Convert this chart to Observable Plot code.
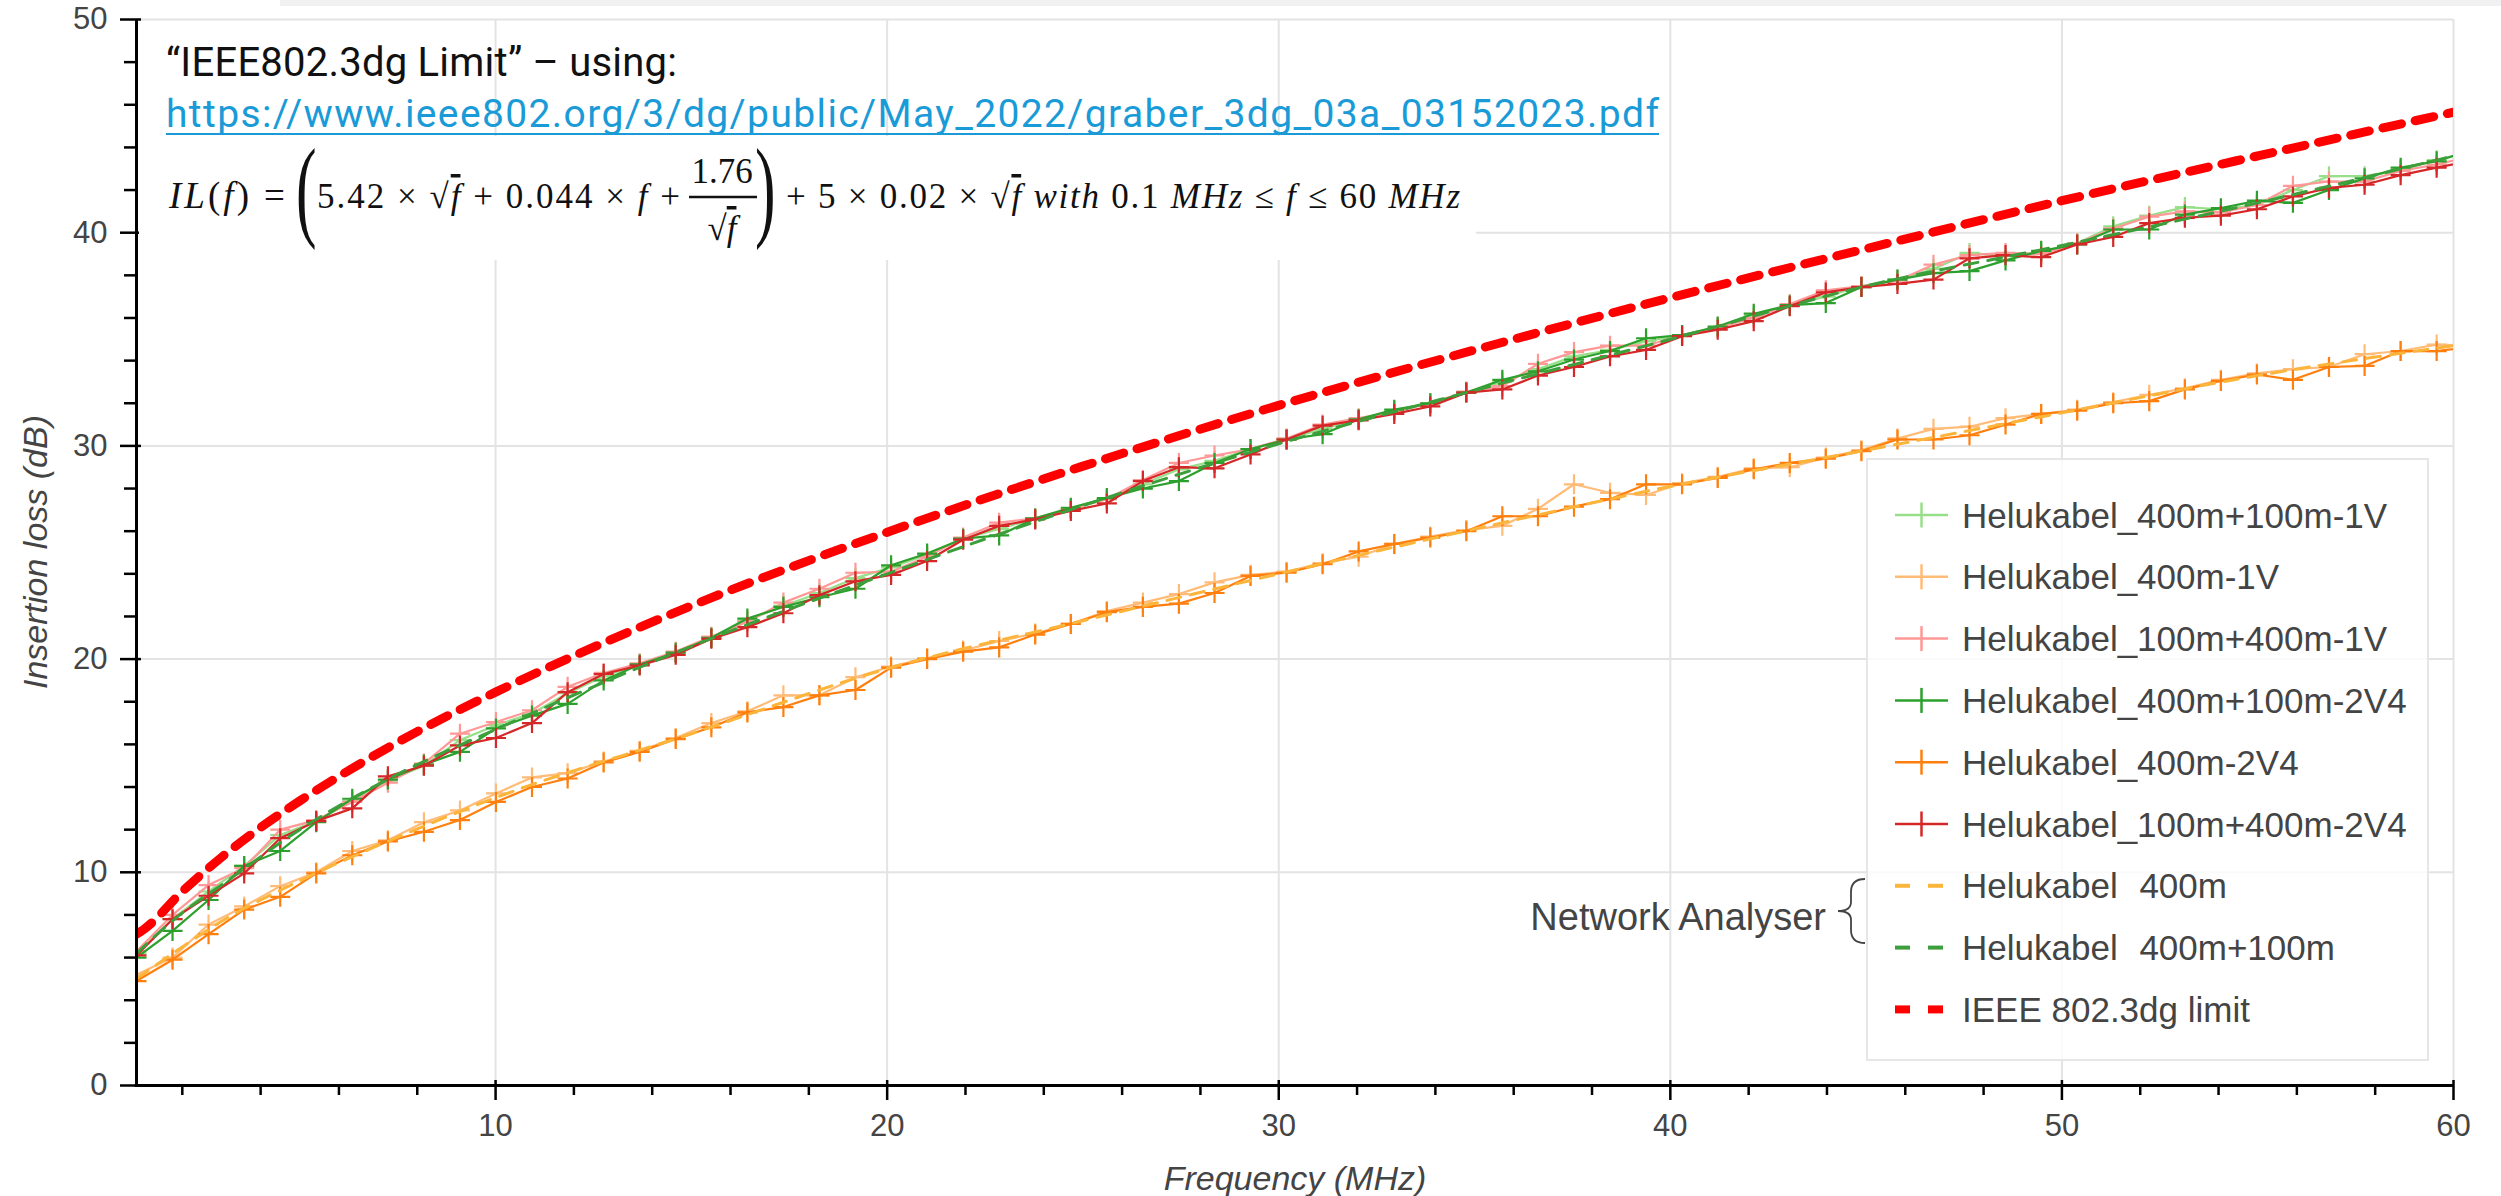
<!DOCTYPE html>
<html>
<head>
<meta charset="utf-8">
<script src="https://cdn.jsdelivr.net/npm/d3@7"></script>
<script src="https://cdn.jsdelivr.net/npm/@observablehq/plot@0.6"></script>
<style>
html, body { margin: 0; padding: 0; background: #fff; }
#wrap { position: relative; width: 2501px; height: 1196px; overflow: hidden; background: #fff; }
#wrap > svg { position: absolute; left: 0; top: 0; }
</style>
</head>
<body>
<div id="wrap"></div>
<script>
// ---------- DATA ----------
const freqs = [0.83,1.75,2.67,3.58,4.50,5.42,6.34,7.25,8.17,9.09,
  10.01,10.93,11.84,12.76,13.68,14.60,15.51,16.43,17.35,18.27,
  19.19,20.10,21.02,21.94,22.86,23.78,24.69,25.61,26.53,27.45,
  28.36,29.28,30.20,31.12,32.04,32.95,33.87,34.79,35.71,36.62,
  37.54,38.46,39.38,40.30,41.21,42.13,43.05,43.97,44.88,45.80,
  46.72,47.64,48.56,49.47,50.39,51.31,52.23,53.14,54.06,54.98,
  55.90,56.82,57.73,58.65,59.57,60.49];

const il_400m100m_1V = [6.2,7.8,9.1,10.3,11.75,12.4,13.35,14.3,15.0,16.2,
  16.9,17.45,18.4,19.2,19.75,20.3,21.0,21.8,22.5,23.1,
  23.8,24.3,24.9,25.65,26.1,26.6,27.05,27.5,28.2,28.9,
  29.3,29.85,30.3,30.8,31.25,31.65,32.0,32.5,33.0,33.6,
  34.2,34.5,34.9,35.2,35.55,36.1,36.6,37.0,37.5,37.8,
  38.3,39.05,38.9,39.1,39.5,40.3,40.8,41.2,41.1,41.3,
  42.0,42.65,42.65,42.95,43.4,43.8];

const il_400m_1V = [5.2,6.0,7.55,8.4,9.35,10.0,11.0,11.5,12.35,12.9,
  13.7,14.45,14.65,15.2,15.7,16.3,17.0,17.55,18.3,18.3,
  19.15,19.65,20.05,20.4,20.85,21.2,21.65,22.25,22.65,23.05,
  23.6,23.95,24.1,24.5,24.8,25.4,25.75,26.05,26.25,27.05,
  28.2,27.8,27.7,28.25,28.55,28.95,29.0,29.45,29.8,30.35,
  30.8,30.9,31.3,31.5,31.7,32.05,32.4,32.7,33.1,33.4,
  33.6,33.7,34.3,34.45,34.75,34.7];

const il_100m400m_1V = [6.3,8.0,9.4,10.2,12.0,12.45,13.3,14.2,15.1,16.5,
  17.05,17.6,18.7,19.35,19.8,20.35,21.05,21.75,22.65,23.3,
  24.05,24.1,24.8,25.7,26.4,26.6,27.05,27.5,28.4,29.2,
  29.55,29.85,30.35,31.0,31.3,31.6,32.0,32.55,32.8,33.85,
  34.4,34.7,34.7,35.2,35.55,36.0,36.65,37.3,37.5,37.75,
  38.5,38.95,39.05,39.0,39.5,40.2,40.75,41.0,40.95,41.3,
  42.2,42.4,42.4,42.9,43.2,43.6];

const il_400m100m_2V4 = [6.0,7.25,8.7,10.3,11.0,12.35,13.45,14.35,15.05,15.65,
  16.75,17.35,17.9,19.0,19.75,20.3,21.0,21.9,22.45,22.9,
  23.3,24.4,24.95,25.65,25.8,26.6,27.1,27.55,28.0,28.35,
  29.2,29.85,30.3,30.55,31.25,31.7,32.0,32.5,33.1,33.5,
  34.05,34.45,35.05,35.2,35.6,36.2,36.6,36.7,37.45,37.8,
  38.1,38.2,38.7,39.15,39.45,40.15,40.15,40.85,41.15,41.5,
  41.4,42.0,42.55,43.05,43.35,43.9];

const il_400m_2V4 = [4.9,5.9,7.1,8.25,8.85,9.95,10.8,11.45,11.9,12.45,
  13.3,14.0,14.4,15.15,15.65,16.25,16.8,17.5,17.75,18.3,
  18.55,19.6,20.0,20.35,20.55,21.15,21.65,22.2,22.45,22.6,
  23.1,23.9,24.05,24.45,25.05,25.4,25.7,26.0,26.7,26.7,
  27.15,27.5,28.2,28.2,28.5,28.9,29.2,29.4,29.75,30.3,
  30.3,30.5,31.0,31.5,31.65,32.0,32.1,32.65,33.05,33.35,
  33.1,33.7,33.75,34.45,34.45,34.65];

const il_100m400m_2V4 = [6.1,7.8,8.9,9.95,11.6,12.4,13.0,14.5,15.0,15.95,
  16.3,17.0,18.45,19.3,19.7,20.2,20.95,21.5,22.15,23.0,
  23.65,23.95,24.6,25.6,26.25,26.55,26.95,27.3,28.35,29.0,
  28.95,29.6,30.3,30.95,31.2,31.5,31.85,32.5,32.65,33.3,
  33.7,34.2,34.5,35.15,35.45,35.85,36.55,37.2,37.45,37.6,
  37.8,38.8,38.95,38.85,39.45,39.8,40.45,40.7,40.8,41.1,
  41.7,42.1,42.25,42.7,43.05,43.4];

// Network analyser traces (read at coarser frequencies)
const naFreqs = [0.83,2,3,5,7.5,10,15,20,25,30,35,40,45,50,55,60];
const na_400m = [5.0,6.5,7.7,9.6,11.65,13.5,16.5,19.55,21.8,24.0,26.1,28.1,29.8,31.55,33.3,34.7];
const na_400m100m = [6.2,8.1,9.4,12.0,14.6,16.7,20.6,24.0,27.2,30.1,32.6,35.0,37.5,39.4,41.4,43.6];

// IEEE 802.3dg limit curve
const limitFreqs = [0.83,1,2,3,4,5,6,8,10,12,15,20,25,30,35,40,45,50,55,60];
const limitValues = [7.1,7.3,9.1,10.7,12.1,13.35,14.5,16.6,18.45,20.15,22.5,25.95,29.05,31.9,34.5,36.95,39.25,41.5,43.6,45.65];

// Ticks
const xMajorTicks = [10,20,30,40,50,60];
const xMinorTicks = [2,4,6,8,12,14,16,18,22,24,26,28,32,34,36,38,42,44,46,48,52,54,56,58];
const yMajorTicks = [0,10,20,30,40,50];
const yMinorTicks = [2,4,6,8,12,14,16,18,22,24,26,28,32,34,36,38,42,44,46,48];

// Series names and colours
const seriesNames = ["Helukabel_400m+100m-1V","Helukabel_400m-1V","Helukabel_100m+400m-1V",
  "Helukabel_400m+100m-2V4","Helukabel_400m-2V4","Helukabel_100m+400m-2V4"];
const seriesColors = ["#98df8a","#ffbb78","#ff9896","#2ca02c","#ff7f0e","#d62728"];
const naNames = ["Helukabel 400m","Helukabel 400m+100m"];
const naColors = ["#fcb53b","#3c9f3c"];
const limitName = "IEEE 802.3dg limit";
const limitColor = "#ff0000";

// ---------- CHART ----------
const seriesValues = [il_400m100m_1V, il_400m_1V, il_100m400m_1V, il_400m100m_2V4, il_400m_2V4, il_100m400m_2V4];
const X0 = freqs[0];

const marks = [
  Plot.gridX(xMajorTicks, {stroke: "#e3e3e3", strokeOpacity: 1, strokeWidth: 2}),
  Plot.gridY(yMajorTicks.filter(d => d > 0), {stroke: "#e3e3e3", strokeOpacity: 1, strokeWidth: 2})
];

seriesValues.forEach((vals, si) => {
  const rows = freqs.map((f, i) => ({f, v: vals[i]}));
  marks.push(Plot.line(rows, {x: "f", y: "v", stroke: seriesColors[si], strokeWidth: 2.2, clip: true}));
  marks.push(Plot.dot(rows, {x: "f", y: "v", stroke: seriesColors[si], fill: "none", symbol: "plus", r: 6.5, strokeWidth: 2.2, clip: true}));
});

[na_400m, na_400m100m].forEach((vals, ni) => {
  const rows = naFreqs.map((f, i) => ({f, v: vals[i]}));
  marks.push(Plot.line(rows, {x: "f", y: "v", stroke: naColors[ni], strokeWidth: 3, strokeDasharray: "14,10", curve: "monotone-x", clip: true}));
});

const limitRows = limitFreqs.map((f, i) => ({f, v: limitValues[i]}));
marks.push(Plot.line(limitRows, {x: "f", y: "v", stroke: limitColor, strokeWidth: 9, strokeDasharray: "19,14", curve: "monotone-x", clip: true}));

// axes
marks.push(Plot.ruleX([X0], {stroke: "#000", strokeWidth: 3, insetBottom: -1.5}));
marks.push(Plot.ruleY([0], {stroke: "#000", strokeWidth: 3, insetLeft: -1.5}));
marks.push(Plot.ruleX(xMajorTicks, {y1: 0, y2: 0, insetTop: -5, insetBottom: -15, stroke: "#000", strokeWidth: 2.5}));
marks.push(Plot.ruleX(xMinorTicks, {y1: 0, y2: 0, insetBottom: -10, stroke: "#000", strokeWidth: 2.5}));
marks.push(Plot.ruleY(yMajorTicks, {x1: X0, x2: X0, insetLeft: -16, insetRight: -5, stroke: "#000", strokeWidth: 2.5}));
marks.push(Plot.ruleY(yMinorTicks, {x1: X0, x2: X0, insetLeft: -12, stroke: "#000", strokeWidth: 2.5}));
marks.push(Plot.axisX(xMajorTicks, {tickSize: 0, tickPadding: 28, label: null}));
marks.push(Plot.axisY(yMajorTicks, {tickSize: 0, tickPadding: 29, label: null}));

const chart = Plot.plot({
  width: 2501,
  height: 1196,
  marginLeft: 136,
  marginRight: 48,
  marginTop: 19,
  marginBottom: 111,
  style: {fontFamily: "'Liberation Sans', Arial, sans-serif", fontSize: "31px", color: "#444", background: "white", overflow: "visible"},
  x: {domain: [X0, 60], label: null},
  y: {domain: [0, 50], label: null},
  marks
});
document.getElementById("wrap").appendChild(chart);

// ---------- ANNOTATIONS / LEGEND OVERLAY ----------
const ov = d3.select("#wrap").append("svg")
  .attr("width", 2501).attr("height", 1196)
  .style("pointer-events", "none");

// faint top band (screenshot edge)
ov.append("rect").attr("x", 280).attr("y", 0).attr("width", 2221).attr("height", 6).attr("fill", "#f1f1f1");

// formula image background
ov.append("rect").attr("x", 139).attr("y", 136).attr("width", 1337).attr("height", 124).attr("fill", "#fff");

// axis titles
ov.append("text").attr("x", 1295).attr("y", 1190).attr("text-anchor", "middle")
  .attr("font-family", "'Liberation Sans', Arial, sans-serif").attr("font-size", 34).attr("font-style", "italic")
  .attr("fill", "#444").text("Frequency (MHz)");
ov.append("text").attr("transform", "translate(47,552) rotate(-90)").attr("text-anchor", "middle")
  .attr("font-family", "'Liberation Sans', Arial, sans-serif").attr("font-size", 34).attr("font-style", "italic")
  .attr("fill", "#444").text("Insertion loss (dB)");

// title + link
ov.append("text").attr("x", 166).attr("y", 76)
  .attr("font-family", "Roboto, 'Liberation Sans', sans-serif").attr("font-size", 40).attr("fill", "#111")
  .attr("textLength", 511).attr("lengthAdjust", "spacing")
  .text("\u201CIEEE802.3dg Limit\u201D \u2013 using:");
ov.append("text").attr("x", 166).attr("y", 127)
  .attr("font-family", "Roboto, 'Liberation Sans', sans-serif").attr("font-size", 39).attr("fill", "#1a9bd7")
  .attr("textLength", 1493).attr("lengthAdjust", "spacing")
  .text("https://www.ieee802.org/3/dg/public/May_2022/graber_3dg_03a_03152023.pdf");
ov.append("line").attr("x1", 166).attr("x2", 1659).attr("y1", 134).attr("y2", 134)
  .attr("stroke", "#1a9bd7").attr("stroke-width", 2);

// formula
const serif = "'Liberation Serif', 'DejaVu Serif', serif";
function fpart(x, y, len, parts, anchor, size) {
  const t = ov.append("text").attr("x", x).attr("y", y)
    .attr("font-family", serif).attr("font-size", size || 35).attr("fill", "#111")
    .attr("xml:space", "preserve");
  if (anchor) t.attr("text-anchor", anchor);
  if (len) t.attr("textLength", len).attr("lengthAdjust", "spacing");
  parts.forEach(p => {
    const s = t.append("tspan").text(p.t);
    if (p.i) s.attr("font-style", "italic");
    if (p.o) s.style("text-decoration", "overline");
  });
  return t;
}
fpart(169, 208, 80, [{t: "IL", i: 1}, {t: "("}, {t: "f", i: 1}, {t: ")"}], null, 37);
fpart(264, 208, null, [{t: "="}], null, 37);
ov.append("text").attr("transform", "translate(296,226) scale(0.55,1)")
  .attr("font-family", serif).attr("font-size", 112).attr("fill", "#111").text("(");
fpart(317, 208, 363, [{t: "5.42 \u00D7 \u221A"}, {t: "f", i: 1, o: 1}, {t: " + 0.044 \u00D7 "}, {t: "f", i: 1}, {t: " +"}]);
fpart(722, 183, null, [{t: "1.76"}], "middle");
ov.append("line").attr("x1", 689).attr("x2", 757).attr("y1", 197).attr("y2", 197).attr("stroke", "#111").attr("stroke-width", 2.5);
fpart(722, 240, null, [{t: "\u221A"}, {t: "f", i: 1, o: 1}], "middle");
ov.append("text").attr("transform", "translate(755,226) scale(0.55,1)")
  .attr("font-family", serif).attr("font-size", 112).attr("fill", "#111").text(")");
fpart(786, 208, 674, [{t: "+ 5 \u00D7 0.02 \u00D7 \u221A"}, {t: "f", i: 1, o: 1}, {t: " "}, {t: "with", i: 1}, {t: " 0.1 "}, {t: "MHz", i: 1}, {t: " \u2264 "}, {t: "f", i: 1}, {t: " \u2264 60 "}, {t: "MHz", i: 1}]);

// legend
const lg = ov.append("g");
lg.append("rect").attr("x", 1867).attr("y", 459).attr("width", 561).attr("height", 601)
  .attr("fill", "rgba(255,255,255,0.8)").attr("stroke", "#e6e6e6").attr("stroke-width", 2);
const legendItems = seriesNames.map((n, i) => ({name: n, color: seriesColors[i], kind: "plus"}))
  .concat(naNames.map((n, i) => ({name: n, color: naColors[i], kind: "dash", w: 4})))
  .concat([{name: limitName, color: limitColor, kind: "dash", w: 8}]);
legendItems.forEach((it, i) => {
  const cy = 515 + 61.8 * i;
  if (it.kind === "plus") {
    lg.append("line").attr("x1", 1895).attr("x2", 1948).attr("y1", cy).attr("y2", cy).attr("stroke", it.color).attr("stroke-width", 2.5);
    lg.append("line").attr("x1", 1921.5).attr("x2", 1921.5).attr("y1", cy - 12.5).attr("y2", cy + 12.5).attr("stroke", it.color).attr("stroke-width", 2.5);
  } else {
    [[1895, 1910], [1928, 1943]].forEach(([a, b]) =>
      lg.append("line").attr("x1", a).attr("x2", b).attr("y1", cy).attr("y2", cy).attr("stroke", it.color).attr("stroke-width", it.w));
  }
  const t = lg.append("text").attr("x", 1962).attr("y", cy + 12.5)
    .attr("font-family", "'Liberation Sans', Arial, sans-serif").attr("font-size", 35).attr("fill", "#444")
    .text(it.name);
  if (it.kind === "dash" && it.w === 4) t.attr("word-spacing", 12);
});

// Network Analyser brace
ov.append("text").attr("x", 1826).attr("y", 930).attr("text-anchor", "end")
  .attr("font-family", "'Liberation Sans', Arial, sans-serif").attr("font-size", 38).attr("fill", "#444")
  .text("Network Analyser");
ov.append("path")
  .attr("d", "M1865,879 C1855,879 1851,884 1851,892 L1851,902 C1851,908 1846,911 1838,911 C1846,911 1851,914 1851,920 L1851,930 C1851,938 1855,943 1865,943")
  .attr("fill", "none").attr("stroke", "#444").attr("stroke-width", 1.8);
</script>
</body>
</html>
